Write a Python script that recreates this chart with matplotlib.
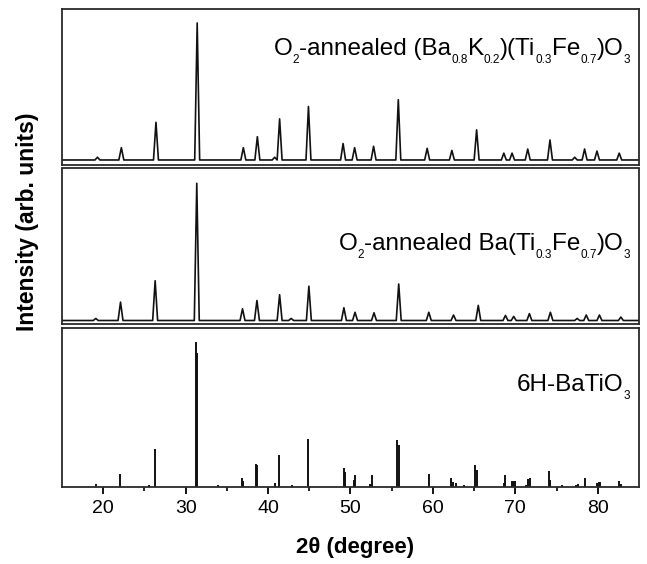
import matplotlib
matplotlib.use('Agg')
import matplotlib.pyplot as plt

plt.rcParams['font.family'] = ['Liberation Sans', 'DejaVu Sans']

# ---- data ----
# O2-annealed (Ba0.8K0.2)(Ti0.3Fe0.7)O3 : peak positions (2theta) and relative intensities
bkf_pos = [19.3, 22.2, 26.4, 31.4, 37.0, 38.7, 40.8, 41.4, 44.9, 49.1, 50.5, 52.8,
           55.8, 59.3, 62.3, 65.3, 68.6, 69.6, 71.5, 74.2, 77.2, 78.4, 79.9, 82.6]
bkf_int = [2, 9, 27.5, 100, 9, 17, 2, 30, 39, 12, 9, 10,
           44, 8.5, 7, 22, 5, 5, 8, 14.6, 2, 8, 6.5, 5]

# O2-annealed Ba(Ti0.3Fe0.7)O3
btf_pos = [19.1, 22.1, 26.3, 31.35, 36.9, 38.65, 41.4, 42.8, 44.95, 49.2, 50.55, 52.85,
           55.85, 59.5, 62.5, 65.5, 68.8, 69.8, 71.7, 74.25, 77.5, 78.6, 80.2, 82.8]
btf_int = [1.5, 13.4, 29, 100, 8.5, 14.6, 18.8, 1.5, 25, 9.3, 6, 5.6,
           26.6, 6, 4, 11, 3.7, 3, 5, 6, 1.5, 4, 4, 2.5]

# 6H-BaTiO3 reference stick pattern
ref_pos = [19.08, 22.07, 25.55, 26.3, 31.28, 31.4, 33.9, 36.82, 36.98, 38.5, 38.67, 40.78,
           41.3, 42.96, 44.86, 49.18, 49.3, 50.4, 50.5, 52.4, 52.63, 55.65, 55.85, 59.48,
           62.2, 62.4, 62.76, 63.76, 65.14, 65.34, 68.58, 68.73, 69.6, 69.75, 69.9, 70.0,
           71.25, 71.5, 71.77, 74.07, 74.23, 75.7, 77.4, 77.6, 78.5, 79.9, 80.1, 80.3,
           82.55, 82.84]
ref_int = [1.9, 8.8, 1.2, 26, 100, 92, 1.2, 6, 4.2, 15.7, 15.2, 3,
           22, 1.2, 33, 13.2, 10, 5, 8, 2, 8, 32, 29, 8.8,
           6, 3.7, 2.8, 1.2, 15, 12, 3, 8, 4.2, 4.2, 4.2, 4.2,
           1.2, 5.3, 6, 11, 4.8, 1.2, 1.5, 1.9, 6.2, 3, 3.7, 3.7,
           4.2, 1.9]

x_ticks = [20, 30, 40, 50, 60, 70, 80]
x_minor = [25, 35, 45, 55, 65, 75]

# labels as (text, is_subscript) pieces
label_bkf = [('O', 0), ('2', 1), ('-annealed (Ba', 0), ('0.8', 1), ('K', 0), ('0.2', 1),
             (')(Ti', 0), ('0.3', 1), ('Fe', 0), ('0.7', 1), (')O', 0), ('3', 1)]
label_btf = [('O', 0), ('2', 1), ('-annealed Ba(Ti', 0), ('0.3', 1), ('Fe', 0), ('0.7', 1),
             (')O', 0), ('3', 1)]
label_ref = [('6H-BaTiO', 0), ('3', 1)]
x_label = '2θ (degree)'
y_label = 'Intensity (arb. units)'


def profile(pos, ints, hw=0.3):
    xs, ys = [15], [0]
    for p, h in sorted(zip(pos, ints)):
        xs += [p - hw, p, p + hw]
        ys += [0, h, 0]
    xs.append(85)
    ys.append(0)
    return xs, ys


def rich_label(ax, pieces, x_right, y_base, fs_main=17.5, fs_sub=8.5, dy_sub=-5.5):
    prev = None
    for txt, sub in reversed(pieces):
        fs = fs_sub if sub else fs_main
        dy = dy_sub if sub else 0
        if prev is None:
            t = ax.annotate(txt, xy=(x_right, y_base), xycoords='axes fraction',
                            xytext=(0, dy), textcoords='offset points',
                            ha='right', va='baseline', fontsize=fs)
        else:
            t = ax.annotate(txt, xy=(0, y_base), xycoords=(prev, ax.transAxes),
                            xytext=(0, dy), textcoords='offset points',
                            ha='right', va='baseline', fontsize=fs)
        prev = t


H = 564.0
fig = plt.figure(figsize=(6.47, 5.64), dpi=100)
L, W = 62 / 647, 577 / 647
ax_top = fig.add_axes([L, 1 - 164.5 / H, W, 155.5 / H])
ax_mid = fig.add_axes([L, 1 - 324 / H, W, 155.5 / H])
ax_bot = fig.add_axes([L, 1 - 487 / H, W, 159 / H])

lc = '#111111'
x, y = profile(bkf_pos, bkf_int)
ax_top.plot(x, y, color=lc, lw=1.2)
ax_top.set_ylim(-3.3, 110.2)

x, y = profile(btf_pos, btf_int)
ax_mid.plot(x, y, color=lc, lw=1.2)
ax_mid.set_ylim(-2.55, 110.8)

ax_bot.vlines(ref_pos, 0, ref_int, color=lc, lw=1.4)
ax_bot.set_ylim(0, 109.4)

for ax in [ax_top, ax_mid, ax_bot]:
    ax.set_xlim(15, 85)
    ax.set_yticks([])
    for s in ax.spines.values():
        s.set_linewidth(1.3)
        s.set_color('#2a2a2a')

rich_label(ax_top, label_bkf, 0.984, (164.5 - 55) / 155.5)
rich_label(ax_mid, label_btf, 0.984, (324 - 250) / 155.5)
rich_label(ax_bot, label_ref, 0.984, (487 - 391) / 159)

for ax in [ax_top, ax_mid]:
    ax.set_xticks([])

ax_bot.set_xticks(x_ticks)
ax_bot.set_xticks(x_minor, minor=True)
ax_bot.tick_params(axis='x', which='major', direction='out', length=5, width=1.3,
                   labelsize=14, pad=4.5)
ax_bot.tick_params(axis='x', which='minor', direction='out', length=3, width=1.2)

fig.text(355 / 647, 1 - 553 / H, x_label, ha='center', va='baseline',
         fontsize=16, fontweight='bold')
fig.text(34.3 / 647, 1 - 221.5 / H, y_label, ha='center', va='baseline',
         rotation=90, rotation_mode='anchor', fontsize=16.5, fontweight='bold')

fig.savefig('out.png', dpi=100)
